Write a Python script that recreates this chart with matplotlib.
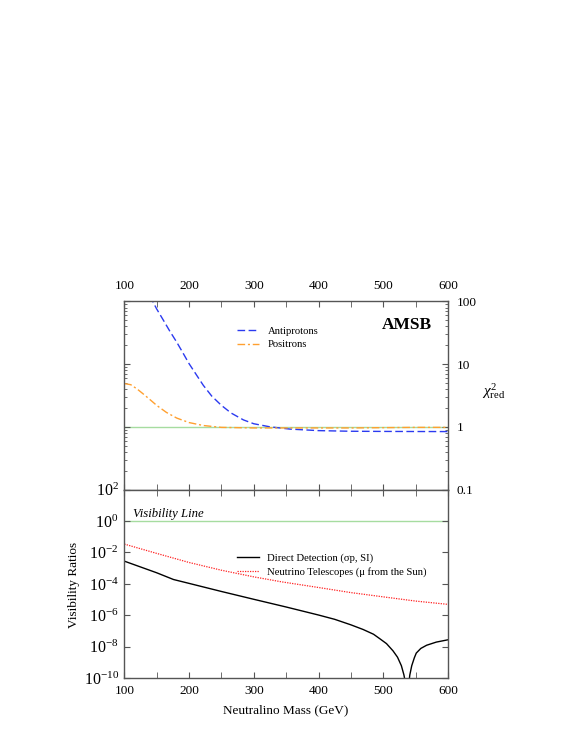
import numpy as np
import matplotlib
matplotlib.use("Agg")
import matplotlib.pyplot as plt
from matplotlib.ticker import FixedLocator, MultipleLocator, LogFormatterMathtext, NullFormatter, NullLocator

plt.rcParams['font.family'] = ['Liberation Serif', 'DejaVu Serif']
plt.rcParams['mathtext.fontset'] = 'custom'
plt.rcParams['mathtext.rm'] = 'Liberation Serif'
plt.rcParams['mathtext.it'] = 'Liberation Serif:italic'

# top panel: reduced chi^2
m_pbar = [140, 144, 150, 160, 170, 181, 190, 200, 210, 222, 235, 250, 265, 284, 300, 325, 356, 400, 450, 500, 550, 600]
chi_pbar = [125, 100, 76, 51, 34, 22.4, 15.5, 10.2, 7.1, 4.6, 3.1, 2.2, 1.66, 1.29, 1.12, 1.0, 0.92, 0.87, 0.85, 0.845, 0.842, 0.84]

m_pos = [100, 110, 120, 130, 140, 150, 165, 181, 200, 222, 250, 300, 350, 400, 450, 500, 550, 600]
chi_pos = [4.9, 4.7, 4.0, 3.3, 2.7, 2.2, 1.7, 1.38, 1.17, 1.05, 0.98, 0.96, 0.96, 0.96, 0.96, 0.97, 0.98, 0.98]

# bottom panel: visibility ratios
m_dd = [100, 150, 176, 200, 250, 300, 350, 400, 425, 450, 469, 485, 495, 505, 515, 522, 528, 532, 535,
        537, 539, 541, 544, 548, 551, 558, 567, 582, 600]
vis_dd = [2.8e-3, 5.1e-4, 1.9e-4, 1.08e-4, 3.3e-5, 1.05e-5, 3.4e-6, 1.05e-6, 5.6e-7, 2.5e-7, 1.26e-7,
          6.3e-8, 3.2e-8, 1.6e-8, 5.6e-9, 2.2e-9, 6.3e-10, 1.6e-10, 3.2e-11,
          1e-12, 3.2e-11, 1.6e-10, 6.3e-10, 2.0e-9, 4.0e-9, 7.9e-9, 1.26e-8, 2.0e-8, 2.8e-8]

m_nt = [100, 150, 200, 250, 300, 343, 400, 450, 500, 550, 600]
vis_nt = [3.4e-2, 8.7e-3, 2.3e-3, 7.4e-4, 2.8e-4, 1.35e-4, 5.9e-5, 2.8e-5, 1.5e-5, 8.1e-6, 5.0e-6]

xticks = [100, 200, 300, 400, 500, 600]
chi_ticks = [0.1, 1, 10, 100]
chi_ticklabels = ['0.1', '1', '10', '100']
vis_ticks = [1e-10, 1e-8, 1e-6, 1e-4, 1e-2, 1e0, 1e2]

spine_col = '#555555'

fig = plt.figure(figsize=(5.72, 7.40), dpi=100)
ax1 = fig.add_axes([0.2173, 0.3385, 0.5659, 0.2541])
ax2 = fig.add_axes([0.2173, 0.0834, 0.5659, 0.2551])

# ---- top panel
ax1.axhline(1, color='#a6dca0', lw=1.0, zorder=1)
ax1.plot(m_pbar, chi_pbar, color='#2b3af0', lw=1.0, dashes=(5.5, 2.5), label='Antiprotons')
ax1.plot(m_pos, chi_pos, color='#ffa030', lw=1.0, dashes=(5.5, 2, 1.5, 2), label='Positrons')
ax1.set_yscale('log')
ax1.set_xlim(100, 600)
ax1.set_ylim(0.1, 100)
ax1.xaxis.set_major_locator(FixedLocator(xticks))
ax1.xaxis.set_minor_locator(MultipleLocator(50))
ax1.yaxis.set_major_locator(FixedLocator(chi_ticks))
ax1.set_yticklabels(chi_ticklabels)
ax1.yaxis.set_minor_formatter(NullFormatter())
ax1.tick_params(which='both', direction='in', top=True, bottom=True, left=True, right=True,
                labeltop=True, labelbottom=False, labelleft=False, labelright=True,
                color=spine_col, labelsize=9.5)
ax1.tick_params(axis='x', pad=7)
ax1.tick_params(axis='y', pad=6)
ax1.tick_params(which='major', length=4.5)
ax1.tick_params(which='minor', length=2.5)
ax1.tick_params(axis='x', which='minor', length=4.5)
ax1.text(0.874, 0.875, 'AMSB', transform=ax1.transAxes, ha='center', va='center',
         fontsize=12.5, fontweight='bold')
ax1.legend(loc='upper left', bbox_to_anchor=(0.348, 0.868), frameon=False, fontsize=7.7,
           handlelength=2.1, handletextpad=0.75, labelspacing=0.38, borderpad=0, borderaxespad=0)
fig.text(0.842, 0.4716, r'$\chi^{2}_{\rm red}$', fontsize=11, va='center', ha='left')

# ---- bottom panel
ax2.axhline(1, color='#a6dca0', lw=1.0, zorder=1)
ax2.plot(m_dd, vis_dd, color='black', lw=1.0, label=u'Direct Detection (\u03c3p, SI)')
ax2.plot(m_nt, vis_nt, color='#ff2020', lw=0.9, dashes=(1, 1), label=u'Neutrino Telescopes (\u03bc from the Sun)')
ax2.set_yscale('log')
ax2.set_xlim(100, 600)
ax2.set_ylim(1e-10, 1e2)
ax2.xaxis.set_major_locator(FixedLocator(xticks))
ax2.xaxis.set_minor_locator(MultipleLocator(50))
ax2.yaxis.set_major_locator(FixedLocator(vis_ticks))
ax2.yaxis.set_major_formatter(LogFormatterMathtext())
ax2.yaxis.set_minor_locator(NullLocator())
ax2.tick_params(which='both', direction='in', top=True, bottom=True, left=True, right=True,
                color=spine_col, labelsize=9.5)
ax2.tick_params(axis='x', pad=5)
ax2.tick_params(axis='y', labelsize=11.5, pad=4)
ax2.tick_params(which='major', length=4.5)
ax2.tick_params(which='minor', length=4.5)
ax2.text(0.027, 1.9, 'Visibility Line', transform=ax2.get_yaxis_transform(),
         fontsize=9.2, style='italic', va='baseline', ha='left')
ax2.legend(loc='upper left', bbox_to_anchor=(0.348, 0.66), frameon=False, fontsize=7.7,
           handlelength=2.1, handletextpad=0.75, labelspacing=0.38, borderpad=0, borderaxespad=0)
ax2.set_xlabel('Neutralino Mass (GeV)', fontsize=9.5, labelpad=5)
fig.text(0.129, 0.2095, 'Visibility Ratios', rotation=90, fontsize=9.5, ha='center', va='center')

for ax in (ax1, ax2):
    for s in ax.spines.values():
        s.set_color(spine_col)
        s.set_linewidth(1.0)

fig.savefig('out.png', dpi=100)
